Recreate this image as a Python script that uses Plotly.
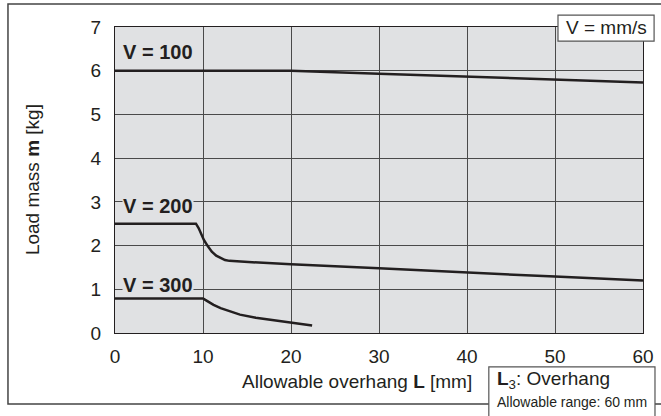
import plotly.graph_objects as go

# overhang L [mm] vs allowable load mass m [kg]
V100_L = [0, 20, 30, 40, 50, 60]
V100_M = [6.0, 6.0, 5.93, 5.86, 5.79, 5.73]

V200_L = [0, 9.2, 9.5, 9.8, 10.1, 10.5, 11.0, 11.5, 12.0, 12.5, 13.0, 20, 30, 40, 50, 60]
V200_M = [2.5, 2.5, 2.4, 2.27, 2.13, 2.0, 1.86, 1.77, 1.71, 1.67, 1.65, 1.57, 1.48, 1.38, 1.29, 1.2]

V300_L = [0, 10.0, 10.4, 10.8, 11.2, 12.0, 13.0, 14.2, 16.0, 18.0, 20.0, 22.4]
V300_M = [0.79, 0.79, 0.74, 0.69, 0.645, 0.57, 0.5, 0.42, 0.35, 0.29, 0.23, 0.17]

CURVE_LABELS = ["V = 100", "V = 200", "V = 300"]

X_TICKS = [0, 10, 20, 30, 40, 50, 60]
Y_TICKS = [0, 1, 2, 3, 4, 5, 6, 7]

FONT = "Liberation Sans, Arial, Helvetica, sans-serif"
INK = "#231f20"
PLOT_BG = "#e0e1e3"

fig = go.Figure()

for xs, ys in [(V100_L, V100_M), (V200_L, V200_M), (V300_L, V300_M)]:
    fig.add_trace(
        go.Scatter(
            x=xs,
            y=ys,
            mode="lines",
            line=dict(color=INK, width=2.5),
            showlegend=False,
            hoverinfo="skip",
        )
    )


def note(x, y, text, size, ref="paper", **kw):
    kw.setdefault("xanchor", "center")
    kw.setdefault("yanchor", "middle")
    fig.add_annotation(
        x=x, y=y, xref=ref, yref=ref, text=text, showarrow=False,
        font=dict(family=FONT, size=size, color=INK), **kw
    )


# curve labels (background masks the grid line behind them)
for label, yv in zip(CURVE_LABELS, [6.42, 2.9, 1.1]):
    fig.add_annotation(
        x=4.9, y=yv, xref="x", yref="y",
        text="<b>" + label + "</b>",
        showarrow=False, xanchor="center", yanchor="middle",
        font=dict(family=FONT, size=20, color=INK),
        bgcolor=PLOT_BG, borderpad=0,
    )

# axis titles
note(-0.157, 0.5, "Load mass <b>m</b> [kg]", 19, textangle=-90)
note(0.459, -0.157, "Allowable overhang <b>L</b> [mm]", 19)

# outer frame; its right side runs past the page edge
fig.add_shape(
    type="rect", xref="paper", yref="paper",
    x0=-0.2027, y0=-0.232, x1=1.06, y1=1.075,
    line=dict(color="#444444", width=1.5), fillcolor="rgba(0,0,0,0)", layer="above",
)

# unit box, top right
fig.add_shape(
    type="rect", xref="paper", yref="paper",
    x0=0.839, y0=0.954, x1=1.021, y1=1.039,
    line=dict(color="#555555", width=1.2), fillcolor="white", layer="above",
)
note(0.930, 0.997, "V = mm/s", 19)

# overhang box, bottom right
fig.add_shape(
    type="rect", xref="paper", yref="paper",
    x0=0.708, y0=-0.30, x1=1.0227, y1=-0.111,
    line=dict(color="#555555", width=1.2), fillcolor="white", layer="above",
)
note(0.72, -0.154, "<b>L</b><sub>3</sub>: Overhang", 19, xanchor="left")
note(0.72, -0.225, "Allowable range: 60 mm", 14, xanchor="left")

axis_common = dict(
    showline=True, linecolor=INK, linewidth=1.2, mirror=True,
    showgrid=True, gridcolor="#4a4a4a", gridwidth=1,
    zeroline=False, ticks="", automargin=False,
    tickfont=dict(family=FONT, size=19, color=INK),
    fixedrange=True,
)

fig.update_xaxes(range=[0, 60], tickvals=X_TICKS, ticklabelstandoff=6, **axis_common)
fig.update_yaxes(range=[0, 7], tickvals=Y_TICKS, ticklabelstandoff=9, **axis_common)

fig.update_layout(
    width=661,
    height=416,
    margin=dict(l=115, r=18, t=27, b=83, autoexpand=False),
    plot_bgcolor=PLOT_BG,
    paper_bgcolor="white",
    font=dict(family=FONT, color=INK),
    showlegend=False,
)

# drop the default 8px body margin so the figure sits at the window origin
fig.write_html(
    "out.html",
    config={"displayModeBar": False},
    post_script="document.body.style.margin='0';",
)
